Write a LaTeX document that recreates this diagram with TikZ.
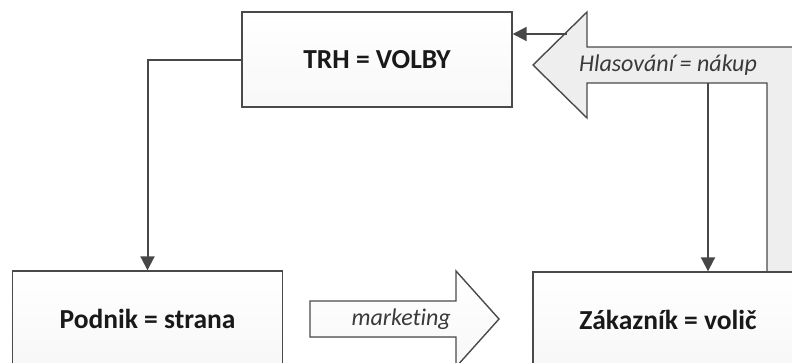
\documentclass[tikz,border=0pt]{standalone}
\usepackage{fontspec}
\setmainfont[Ligatures=NoCommon]{Carlito}
\usepackage{xcolor}
\usepackage{tikz}
\usetikzlibrary{arrows.meta, positioning}

\definecolor{linegray}{HTML}{4A4A4A}
\definecolor{bandgray}{HTML}{EEEEEE}
\definecolor{labelgray}{HTML}{3A3A3A}

\begin{document}
\begin{tikzpicture}[
    x=1pt, y=-1pt,
    block/.style={rectangle, draw=linegray, line width=1.4pt, top color=white, bottom color=black!3,
        minimum width=270pt, minimum height=95pt, text=black!90, font=\fontsize{27.5}{32}\selectfont\bfseries},
    bigarrow/.style={draw=linegray, line width=1.4pt, line join=miter},
    arrow/.style={draw=black!72, line width=2pt, -{Triangle[length=14pt,width=14pt]}},
    label/.style={font=\fontsize{24}{28}\selectfont\itshape, text=labelgray, inner sep=0pt}
]
\path[use as bounding box, clip] (0,0) rectangle (792,362);

% Hlasovani arrow (bent, coming up from behind the customer box)
\filldraw[bigarrow, fill=bandgray] (533,65) -- (587,12) -- (587,47) -- (803,47) -- (803,400)
    -- (767,400) -- (767,83) -- (587,83) -- (587,118) -- cycle;
\node[label] (vote) at (668,65) {Hlasování = nákup};

% marketing arrow
\filldraw[bigarrow, top color=white, bottom color=black!3] (310,301) -- (456,301) -- (456,271) -- (499,319)
    -- (456,367) -- (456,337) -- (310,337) -- cycle;
\node[label, anchor=east] (mkt) at (451,319) {marketing};

% Boxes
\node[block] (trh) at (377,59.5) {TRH = VOLBY};
\node[block] (podnik) at (147.5,318.5) {Podnik = strana};
\node[block] (zakaznik) at (668,319.5) {Zákazník = volič};

% Arrows
\coordinate (voteout) at (708,83);
\coordinate (voteback) at (567,34);
\draw[arrow] (trh.west) -| (podnik.north);
\draw[arrow] (voteout) -- (voteout |- zakaznik.north);
\draw[arrow] (voteback) -- (voteback -| trh.east);

\end{tikzpicture}
\end{document}
